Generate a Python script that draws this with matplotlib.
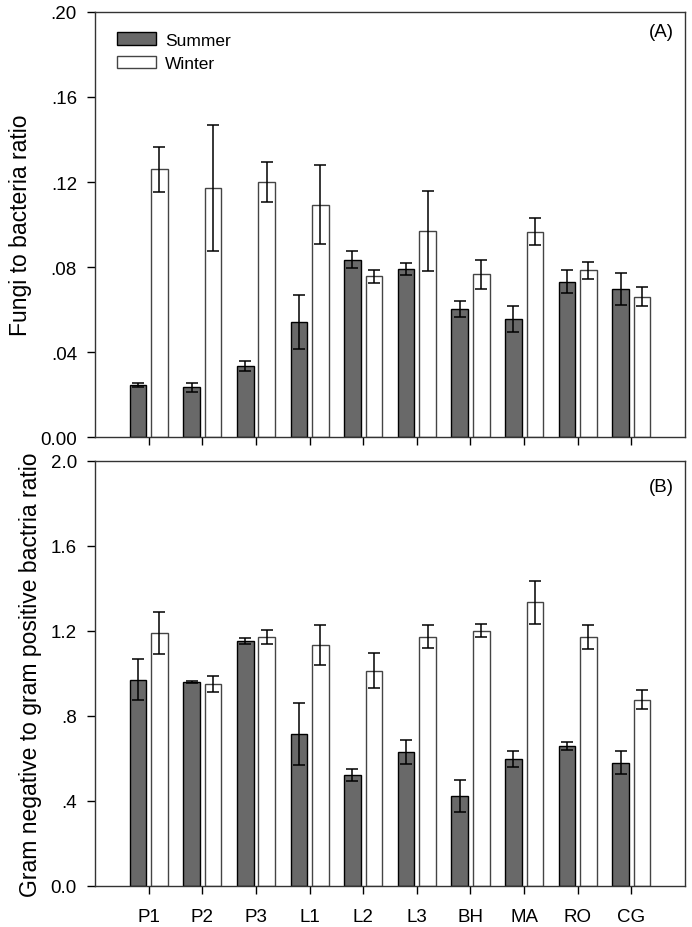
import numpy as np
import matplotlib
matplotlib.use("Agg")
import matplotlib.pyplot as plt

plt.rcParams['font.family'] = ['Liberation Sans', 'DejaVu Sans']

sites = ['P1', 'P2', 'P3', 'L1', 'L2', 'L3', 'BH', 'MA', 'RO', 'CG']

# (A) fungi to bacteria ratio
fb_summer = [0.0245, 0.0234, 0.0336, 0.0541, 0.0834, 0.0789, 0.0601, 0.0555, 0.0731, 0.0696]
fb_summer_err = [0.001, 0.002, 0.0024, 0.0126, 0.004, 0.0028, 0.0038, 0.0063, 0.0054, 0.0076]
fb_winter = [0.1261, 0.1172, 0.1201, 0.1093, 0.0756, 0.0971, 0.0765, 0.0966, 0.0784, 0.066]
fb_winter_err = [0.0106, 0.0296, 0.0094, 0.0186, 0.0029, 0.0188, 0.0068, 0.0064, 0.0041, 0.0044]

# (B) gram negative to gram positive ratio
gn_summer = [0.971, 0.960, 1.153, 0.715, 0.522, 0.632, 0.423, 0.599, 0.658, 0.580]
gn_summer_err = [0.097, 0.003, 0.014, 0.144, 0.027, 0.056, 0.076, 0.037, 0.02, 0.053]
gn_winter = [1.189, 0.951, 1.171, 1.136, 1.013, 1.172, 1.202, 1.334, 1.172, 0.877]
gn_winter_err = [0.099, 0.037, 0.034, 0.094, 0.083, 0.054, 0.032, 0.101, 0.055, 0.046]

ticks_a = [0.0, 0.04, 0.08, 0.12, 0.16, 0.20]
ticklabels_a = ['0.00', '.04', '.08', '.12', '.16', '.20']
ticks_b = [0.0, 0.4, 0.8, 1.2, 1.6, 2.0]
ticklabels_b = ['0.0', '.4', '.8', '1.2', '1.6', '2.0']

x = np.arange(1, len(sites) + 1)
w = 0.31
off = 0.2

fig = plt.figure(figsize=(6.92, 9.28), dpi=100)
ax_a = fig.add_axes([0.1373, 0.528, 0.8526, 0.458])
ax_b = fig.add_axes([0.1373, 0.0442, 0.8526, 0.458])

ekw = dict(ecolor='black', elinewidth=1.1, capsize=4.5, capthick=1.1)


def draw(ax, s, se, wv, we, ticks, labels, ylabel, tag, tag_y):
    ax.bar(x - off, s, w, color='#696969', edgecolor='black', linewidth=1.0,
           yerr=se, error_kw=ekw, label='Summer', zorder=2)
    ax.bar(x + off, wv, w, color='white', edgecolor='#444444', linewidth=1.0,
           yerr=we, error_kw=ekw, label='Winter', zorder=2)
    ax.set_xlim(0, 11)
    ax.set_ylim(ticks[0], ticks[-1])
    ax.set_yticks(ticks)
    ax.set_yticklabels(labels)
    ax.set_xticks(x)
    ax.tick_params(direction='out', length=6, width=1, labelsize=13.5, colors='black')
    ax.tick_params(axis='y', pad=7)
    ax.set_ylabel(ylabel, fontsize=16.5, labelpad=6)
    for sp in ax.spines.values():
        sp.set_color('#333333')
        sp.set_linewidth(1.0)
    ax.text(0.981, tag_y, tag, transform=ax.transAxes, ha='right', va='center',
            fontsize=13.5)


draw(ax_a, fb_summer, fb_summer_err, fb_winter, fb_winter_err, ticks_a, ticklabels_a,
     'Fungi to bacteria ratio', '(A)', 0.953)
ax_a.set_xticklabels([])

draw(ax_b, gn_summer, gn_summer_err, gn_winter, gn_winter_err, ticks_b, ticklabels_b,
     'Gram negative to gram positive bactria ratio', '(B)', 0.940)
ax_b.set_xticklabels(sites)
ax_b.tick_params(axis='x', pad=10)

ax_a.legend(loc='upper left', bbox_to_anchor=(0.038, 0.952), frameon=False,
            fontsize=12.5, handlelength=2.2, handleheight=0.75, handletextpad=0.55,
            labelspacing=0.45, borderpad=0, borderaxespad=0)

fig.align_ylabels([ax_a, ax_b])
fig.savefig('out.png', dpi=100)
